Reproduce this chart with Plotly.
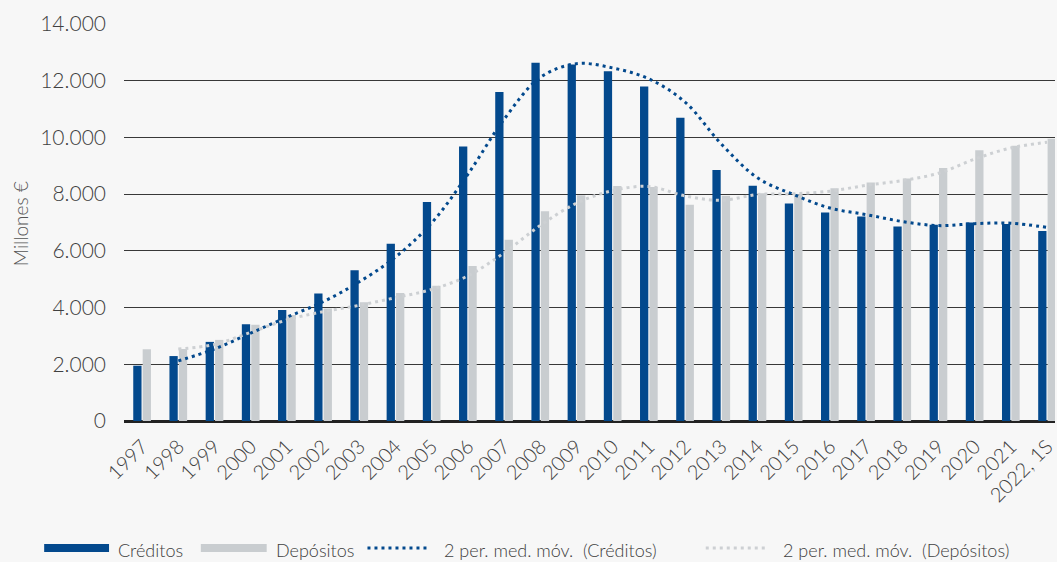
import pandas as pd
import plotly.graph_objects as go

# Annual series (millones de euros)
years = ["1997", "1998", "1999", "2000", "2001", "2002", "2003", "2004", "2005",
         "2006", "2007", "2008", "2009", "2010", "2011", "2012", "2013", "2014",
         "2015", "2016", "2017", "2018", "2019", "2020", "2021", "2022, 1S"]
creditos = [1950, 2290, 2790, 3410, 3910, 4500, 5315, 6250, 7720, 9680, 11600,
            12630, 12570, 12330, 11800, 10690, 8850, 8300, 7670, 7350, 7210,
            6860, 6920, 7000, 6950, 6700]
depositos = [2530, 2540, 2860, 3390, 3740, 3970, 4190, 4510, 4770, 5470, 6390,
             7400, 7960, 8290, 8250, 7630, 7940, 8030, 8000, 8210, 8410, 8550,
             8920, 9550, 9710, 9950]

# 2-period moving averages (first value undefined)
ma_cred = pd.Series(creditos).rolling(2).mean().tolist()
ma_dep = pd.Series(depositos).rolling(2).mean().tolist()

BLUE = "#03498D"
GRAY = "#C9CDD0"
GRAY_DOT = "#CDD0D3"
TEXT = "#404040"
BG = "#F7F7F7"
FONT = "Lato"
WEIGHT = 300

W, H = 1057, 562
L, R, T, B = 124, 0, 24, 141
PW, PH = W - L - R, H - T - B


def px(xp):
    return (xp - L) / PW


def py(yp):
    return (H - B - yp) / PH


fig = go.Figure()
fig.add_trace(go.Bar(x=years, y=creditos, name="Créditos", marker_color=BLUE,
                     marker_line_width=0))
fig.add_trace(go.Bar(x=years, y=depositos, name="Depósitos", marker_color=GRAY,
                     marker_line_width=0))
fig.add_trace(go.Scatter(x=years, y=ma_cred, mode="lines",
                         line=dict(color=BLUE, width=3, dash="3px,4px",
                                   shape="spline", smoothing=1.0),
                         name="2 per. med. móv.  (Créditos)"))
fig.add_trace(go.Scatter(x=years, y=ma_dep, mode="lines",
                         line=dict(color=GRAY_DOT, width=3, dash="3px,4px",
                                   shape="spline", smoothing=1.0),
                         name="2 per. med. móv.  (Depósitos)"))

fig.update_layout(
    width=W, height=H,
    margin=dict(l=L, r=R, t=T, b=B),
    paper_bgcolor=BG, plot_bgcolor=BG,
    barmode="group", bargap=0.48, bargroupgap=0.12,
    showlegend=False,
    separators=",.",
    font=dict(family=FONT, color=TEXT, size=18, weight=WEIGHT),
)
fig.update_xaxes(
    type="category", range=[-0.5, 25.22], tickangle=-45,
    tickfont=dict(size=20, color=TEXT, weight=WEIGHT), ticklabelstandoff=9,
    showgrid=False, showline=False, ticks="", fixedrange=True,
)
fig.update_yaxes(
    range=[0, 14000], dtick=2000, tickformat=",d",
    tickfont=dict(size=21, color=TEXT, weight=WEIGHT), ticklabelstandoff=17,
    showgrid=True, gridcolor="#383838", gridwidth=1,
    zeroline=True, zerolinecolor="#222222", zerolinewidth=2.5,
    showline=False, ticks="",
)

# Y axis title
fig.add_annotation(text="Millones €", xref="paper", yref="paper",
                   x=px(20), y=py(224), textangle=-90, showarrow=False,
                   font=dict(size=19, color="#555555", weight=WEIGHT),
                   xanchor="center", yanchor="middle")

# Custom legend row
ly = 548
sp = "\u00a0\u00a0"
legend_items = [
    ("rect", BLUE, 44, 109, 116, "Créditos"),
    ("rect", GRAY, 201, 267, 274, "Depósitos"),
    ("dot", BLUE, 368, 431, 443, "2 per. med. móv." + sp + "(Créditos)"),
    ("dot", GRAY_DOT, 707, 770, 782, "2 per. med. móv." + sp + "(Depósitos)"),
]
for kind, col, x0, x1, tx, label in legend_items:
    if kind == "rect":
        fig.add_shape(type="rect", xref="paper", yref="paper",
                      x0=px(x0), x1=px(x1), y0=py(ly - 4), y1=py(ly + 4),
                      fillcolor=col, line_width=0)
    else:
        fig.add_shape(type="line", xref="paper", yref="paper",
                      x0=px(x0), x1=px(x1), y0=py(ly), y1=py(ly),
                      line=dict(color=col, width=3, dash="3px,4px"))
    fig.add_annotation(text=label, xref="paper", yref="paper",
                       x=px(tx), y=py(ly + 2), showarrow=False,
                       xanchor="left", yanchor="middle",
                       font=dict(size=18, color=TEXT, weight=WEIGHT))

fig.write_html("out.html", config={"displayModeBar": False})
